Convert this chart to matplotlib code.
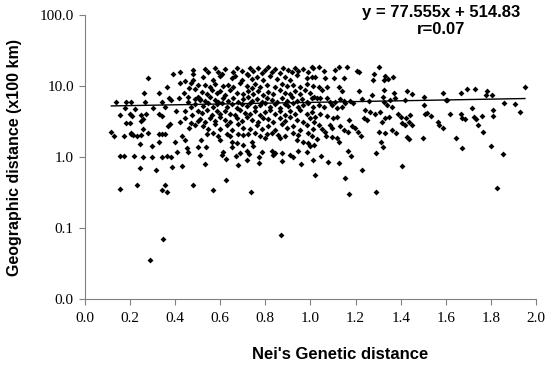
import matplotlib
matplotlib.use("Agg")
import matplotlib.pyplot as plt

# Nei's genetic distance vs geographic distance (x100 km)
nei_left = [0.28, 0.39, 0.42, 0.42, 0.445, 0.365, 0.26, 0.33, 0.374, 0.415, 0.34, 0.383,
            0.136, 0.183, 0.205, 0.267, 0.44, 0.179, 0.223, 0.30, 0.353, 0.154, 0.198, 0.207,
            0.25, 0.272, 0.33, 0.34, 0.405, 0.445, 0.445, 0.375, 0.37, 0.42, 0.25, 0.257,
            0.183, 0.198, 0.257, 0.117, 0.205,
            0.129, 0.173, 0.203, 0.213, 0.232, 0.25, 0.28, 0.33, 0.34, 0.356, 0.245, 0.297,
            0.328, 0.40, 0.43, 0.445, 0.454, 0.457, 0.50, 0.51, 0.41, 0.154, 0.173, 0.216,
            0.257, 0.297, 0.341, 0.365, 0.38, 0.245, 0.316, 0.386, 0.431, 0.157, 0.231, 0.356,
            0.341, 0.365, 0.48, 0.346, 0.287,
            0.48, 0.48, 0.48, 0.457, 0.50, 0.51, 0.475, 0.47, 0.49, 0.46, 0.50, 0.49, 0.47,
            0.50, 0.46, 0.49, 0.50, 0.47, 0.455, 0.49]
geo_left = [12.8, 15.0, 15.6, 11.2, 11.8, 9.6, 8.1, 8.1, 6.85, 6.85, 6.0, 6.35,
            6.0, 6.0, 6.0, 6.0, 8.1, 4.85, 4.7, 4.95, 5.1, 3.9, 4.0, 3.8,
            3.9, 4.1, 4.1, 3.8, 4.45, 4.45, 3.6, 2.9, 2.75, 3.15, 3.25, 3.4,
            3.0, 3.0, 2.5, 2.27, 2.15,
            1.99, 1.99, 2.1, 2.04, 1.99, 2.04, 2.2, 2.1, 2.1, 2.1, 1.52, 1.43,
            1.64, 1.64, 1.97, 1.73, 1.33, 1.19, 1.4, 1.07, 1.19, 1.04, 1.04, 1.04,
            1.01, 1.01, 1.01, 1.05, 1.01, 0.69, 0.66, 0.72, 0.75, 0.36, 0.40, 0.40,
            0.34, 0.32, 0.40, 0.07, 0.035,
            16.8, 15.0, 12.2, 7.1, 7.1, 6.3, 3.9, 3.0, 2.8, 2.6, 3.2, 5.5, 5.0,
            4.5, 9.5, 9.0, 10.5, 11.0, 6.0, 6.5]

nei_mid = [0.532, 0.547, 0.577, 0.591, 0.606, 0.621, 0.658, 0.673, 0.695, 0.717, 0.732, 0.747,
           0.769, 0.783, 0.798, 0.813, 0.828, 0.843, 0.865, 0.880, 0.902, 0.917, 0.931, 0.946,
           0.968, 0.990, 1.013,
           0.525, 0.569, 0.599, 0.650, 0.665, 0.695, 0.724, 0.739, 0.761, 0.791, 0.820, 0.850,
           0.887, 0.909, 0.939, 0.983, 1.005,
           0.532, 0.554, 0.577, 0.613, 0.636, 0.658, 0.687, 0.717, 0.739, 0.754, 0.776, 0.806,
           0.843, 0.872, 0.894, 0.924, 0.953, 0.983, 1.013,
           0.517, 0.540, 0.562, 0.584, 0.599, 0.621, 0.643, 0.673, 0.702, 0.724, 0.747, 0.769,
           0.791, 0.813, 0.835, 0.865, 0.887, 0.909, 0.931, 0.953, 0.976, 0.998,
           0.510, 0.532, 0.554, 0.577, 0.591, 0.613, 0.636, 0.658, 0.680, 0.702, 0.724, 0.739,
           0.761, 0.783, 0.806, 0.828, 0.850, 0.872, 0.894, 0.917, 0.939, 0.961, 0.983, 1.005,
           0.525, 0.547, 0.569, 0.584, 0.606, 0.628, 0.650, 0.673, 0.695, 0.717, 0.732, 0.754,
           0.776, 0.798, 0.820, 0.843, 0.865, 0.887, 0.902, 0.924, 0.946, 0.968, 0.990, 1.013,
           0.517, 0.540, 0.562, 0.584, 0.599, 0.621, 0.643, 0.665, 0.687, 0.709, 0.732, 0.754,
           0.776, 0.798, 0.820, 0.843, 0.865, 0.887, 0.909, 0.931, 0.953, 0.983, 1.005,
           0.510, 0.532, 0.554, 0.577, 0.599, 0.621, 0.643, 0.673, 0.695, 0.717, 0.739, 0.769,
           0.791, 0.813, 0.835, 0.865, 0.887, 0.909, 0.939, 0.968, 0.998,
           0.525, 0.547, 0.577, 0.599, 0.628, 0.650, 0.680, 0.702, 0.732, 0.761, 0.783, 0.813,
           0.843, 0.872, 0.894, 0.924, 0.953, 0.983, 1.013]
geo_mid = [17.5, 15.5, 18.0, 16.0, 14.8, 17.2, 15.8, 18.2, 16.5, 15.0, 17.8, 16.2,
           18.0, 15.4, 17.0, 18.4, 16.0, 17.5, 15.2, 18.0, 16.8, 15.5, 18.2, 16.5,
           17.5, 15.8, 17.8,
           13.5, 12.3, 14.0, 12.8, 13.8, 12.0, 14.2, 12.5, 13.2, 12.1, 14.0, 12.6,
           13.6, 12.2, 14.1, 12.9, 13.6,
           10.2, 9.7, 10.8, 9.9, 10.5, 9.6, 10.9, 10.0, 9.5, 10.6, 9.8, 10.4,
           9.6, 10.7, 9.9, 10.3, 9.7, 10.8, 10.0,
           8.2, 7.6, 8.7, 7.9, 8.4, 7.5, 8.8, 8.0, 7.6, 8.5, 7.8, 8.6,
           7.5, 8.3, 7.7, 8.8, 8.0, 7.6, 8.4, 7.8, 8.7, 7.9,
           6.6, 6.1, 6.9, 6.3, 6.0, 6.8, 6.2, 6.7, 6.0, 6.5, 6.9, 6.1,
           6.6, 6.0, 6.8, 6.3, 6.0, 6.7, 6.2, 6.9, 6.1, 6.5, 6.0, 6.8,
           5.3, 5.7, 5.0, 5.5, 5.8, 5.1, 5.5, 4.9, 5.6, 5.2, 5.8, 5.0,
           5.4, 5.7, 5.1, 5.5, 4.9, 5.6, 5.2, 5.8, 5.0, 5.4, 5.7, 5.1,
           4.2, 4.6, 3.9, 4.4, 4.0, 4.5, 4.1, 3.9, 4.6, 4.2, 4.0, 4.5,
           3.9, 4.3, 4.6, 4.0, 4.4, 3.9, 4.5, 4.1, 4.6, 4.0, 4.3,
           3.4, 3.1, 3.6, 3.2, 3.7, 3.3, 3.1, 3.5, 3.2, 3.7, 3.3, 3.1,
           3.6, 3.4, 3.1, 3.5, 3.2, 3.7, 3.3, 3.1, 3.5,
           2.7, 2.45, 2.9, 2.5, 2.8, 2.4, 2.95, 2.6, 2.45, 2.85, 2.5, 2.7,
           2.4, 2.9, 2.55, 2.75, 2.4, 2.85, 2.5]

nei_low = [0.540, 0.569, 0.591, 0.628, 0.643, 0.680, 0.702, 0.724, 0.754, 0.776, 0.806, 0.828,
           0.857, 0.887, 0.924, 0.946, 0.990, 1.005, 0.798, 0.865,
           0.532, 0.625, 0.569, 0.735, 0.677, 0.773, 0.872, 0.956, 1.013, 0.624, 0.606, 0.613,
           0.537, 0.65, 0.668, 0.687, 0.717, 0.729, 0.746, 0.72, 0.784, 0.773, 0.828, 0.843,
           0.832, 0.872, 0.909, 0.924, 0.946, 0.983, 1.0, 0.514, 0.599, 0.65, 0.673, 0.702,
           0.739, 0.94, 0.968, 0.99, 0.871]
geo_low = [2.1, 2.2, 1.95, 2.1, 1.95, 2.1, 2.05, 2.1, 2.2, 1.95, 2.1, 2.2,
           2.05, 1.95, 2.2, 2.05, 2.2, 1.95, 1.83, 1.83,
           0.81, 0.48, 0.34, 0.32, 0.77, 0.83, 0.89, 0.80, 0.91, 0.93, 1.07, 1.19,
           1.4, 1.37, 1.03, 1.13, 1.23, 1.1, 1.43, 0.91, 1.19, 1.01, 1.23, 1.13,
           1.07, 1.13, 1.07, 1.01, 1.23, 1.19, 1.43, 1.73, 1.73, 1.64, 1.56, 1.48,
           1.64, 1.73, 1.64, 1.56, 0.081]

nei_right = [1.007, 1.039, 1.058, 1.11, 1.125, 1.162, 1.206, 1.214, 1.302, 1.28, 1.277, 1.329,
             1.325, 1.344, 1.366, 1.021, 1.066, 1.103, 1.147, 1.036, 1.051, 1.073, 1.125, 1.14,
             1.214, 1.325, 1.369, 1.428, 1.45, 1.273, 1.32, 1.228, 1.258, 1.354, 1.376, 1.42,
             1.014, 1.029, 1.043, 1.073, 1.088, 1.132, 1.147, 1.154, 1.176, 1.19, 1.11, 1.325,
             1.339, 1.361, 1.036, 1.058, 1.095, 1.117, 1.14, 1.243, 1.265, 1.287, 1.31, 1.021,
             1.043, 1.073, 1.098, 1.117, 1.169, 1.184, 1.199, 1.236, 1.25, 1.317, 1.332, 1.35,
             1.388, 1.403, 1.424, 1.443, 1.438, 1.45, 1.406, 1.42, 1.014, 1.036, 1.051, 1.066,
             1.088, 1.095, 1.132, 1.147, 1.302, 1.361,
             1.07, 1.096, 1.117, 1.125, 1.014, 1.03, 1.166, 1.21, 1.225, 1.329, 1.379, 1.428,
             1.435, 1.499, 1.313, 1.32, 1.166, 1.18, 1.292, 1.048, 1.078, 1.125, 1.228, 1.406,
             1.021, 1.152, 1.172, 1.292,
             1.647, 1.673, 1.766, 1.802, 1.854, 1.829,
             1.503, 1.589, 1.60, 1.607, 1.666, 1.693, 1.728, 1.781, 1.777, 1.806, 1.951, 1.858,
             1.906, 1.928, 1.503, 1.51, 1.518, 1.536, 1.619, 1.666, 1.673, 1.685, 1.718, 1.725,
             1.733, 1.762, 1.811, 1.811, 1.565, 1.57, 1.589, 1.744]
geo_right = [18.3, 18.3, 16.5, 16.8, 18.3, 18.3, 16.5, 15.6, 18.5, 15.0, 12.2, 14.0,
             12.2, 12.6, 13.2, 13.5, 12.8, 12.8, 13.1, 9.6, 8.8, 9.8, 9.6, 8.5,
             8.6, 8.8, 8.1, 8.6, 7.8, 7.5, 7.1, 6.6, 6.1, 6.35, 6.7, 6.35,
             7.1, 6.7, 6.85, 6.7, 6.0, 6.6, 6.1, 5.8, 6.2, 5.8, 6.0, 6.0,
             5.4, 5.1, 5.4, 5.1, 5.4, 4.85, 5.1, 4.6, 4.35, 4.1, 4.35, 3.7,
             4.0, 3.8, 3.6, 3.7, 3.3, 2.75, 2.6, 3.6, 3.3, 3.15, 3.5, 3.7,
             4.0, 3.7, 3.5, 3.9, 3.15, 2.8, 3.0, 2.8, 3.15, 2.8, 2.45, 2.22,
             2.8, 2.55, 2.75, 2.4, 2.27, 2.4,
             2.0, 1.93, 1.83, 1.64, 1.48, 1.78, 2.27, 2.27, 1.97, 2.2, 2.15, 1.89,
             1.78, 1.83, 1.64, 1.4, 1.23, 1.04, 1.13, 1.03, 0.86, 0.83, 0.66, 0.75,
             0.55, 0.51, 0.30, 0.32,
             1.87, 1.33, 2.23, 1.43, 1.09, 0.37,
             7.1, 8.1, 6.35, 6.35, 8.1, 9.1, 9.1, 8.6, 7.5, 7.4, 9.6, 5.8,
             5.5, 4.25, 5.4, 4.1, 4.2, 3.8, 4.1, 4.1, 3.5, 3.4, 4.85, 3.7,
             3.4, 3.8, 4.6, 3.8, 3.15, 2.8, 2.6, 2.8]

nei_dist = nei_left + nei_mid + nei_low + nei_right
geo_dist = geo_left + geo_mid + geo_low + geo_right

# regression shown on the figure (km units)
slope = 77.555
intercept = 514.83

fig = plt.figure(figsize=(5.5, 3.66), dpi=100)
ax = fig.add_axes([0.1545, 0.183, 0.82, 0.776])

ax.scatter(nei_dist, geo_dist, marker="D", s=9, color="black", linewidths=0, zorder=3)

x_fit = [min(nei_dist), max(nei_dist)]
y_fit = [(slope * x + intercept) / 100 for x in x_fit]
ax.plot(x_fit, y_fit, color="black", linewidth=1.0, zorder=4)

ax.set_yscale("log")
ax.set_ylim(0.01, 100)
ax.set_xlim(0, 2.0)
ax.set_yticks([0.01, 0.1, 1, 10, 100])
ax.set_yticklabels(["0.0", "0.1", "1.0", "10.0", "100.0"])
ax.yaxis.set_minor_locator(matplotlib.ticker.NullLocator())
xt = [i * 0.2 for i in range(11)]
ax.set_xticks(xt)
ax.set_xticklabels([f"{v:.1f}" for v in xt])

for s in ["top", "right"]:
    ax.spines[s].set_visible(False)
for s in ["left", "bottom"]:
    ax.spines[s].set_color("#808080")
    ax.spines[s].set_linewidth(0.8)
ax.tick_params(direction="out", length=4, width=0.8, color="#808080",
               labelsize=11)
ax.tick_params(axis="x", pad=5)
ax.tick_params(axis="y", pad=4)
for lab in ax.get_xticklabels() + ax.get_yticklabels():
    lab.set_family("Liberation Serif")

ax.set_xlabel("Nei's Genetic distance", fontsize=12, fontweight="bold",
              family="Liberation Sans")
ax.xaxis.set_label_coords(0.565, -0.17)
ax.set_ylabel("Geographic distance (x100 km)", fontsize=11.5, fontweight="bold",
              family="Liberation Sans")
ax.yaxis.set_label_coords(-0.14, 0.5)

fig.text(0.802, 0.942, "y = 77.555x + 514.83\nr=0.07", ha="center", va="center",
         fontsize=12, fontweight="bold", family="Liberation Sans", linespacing=1.15)

fig.savefig("out.png", dpi=100)
